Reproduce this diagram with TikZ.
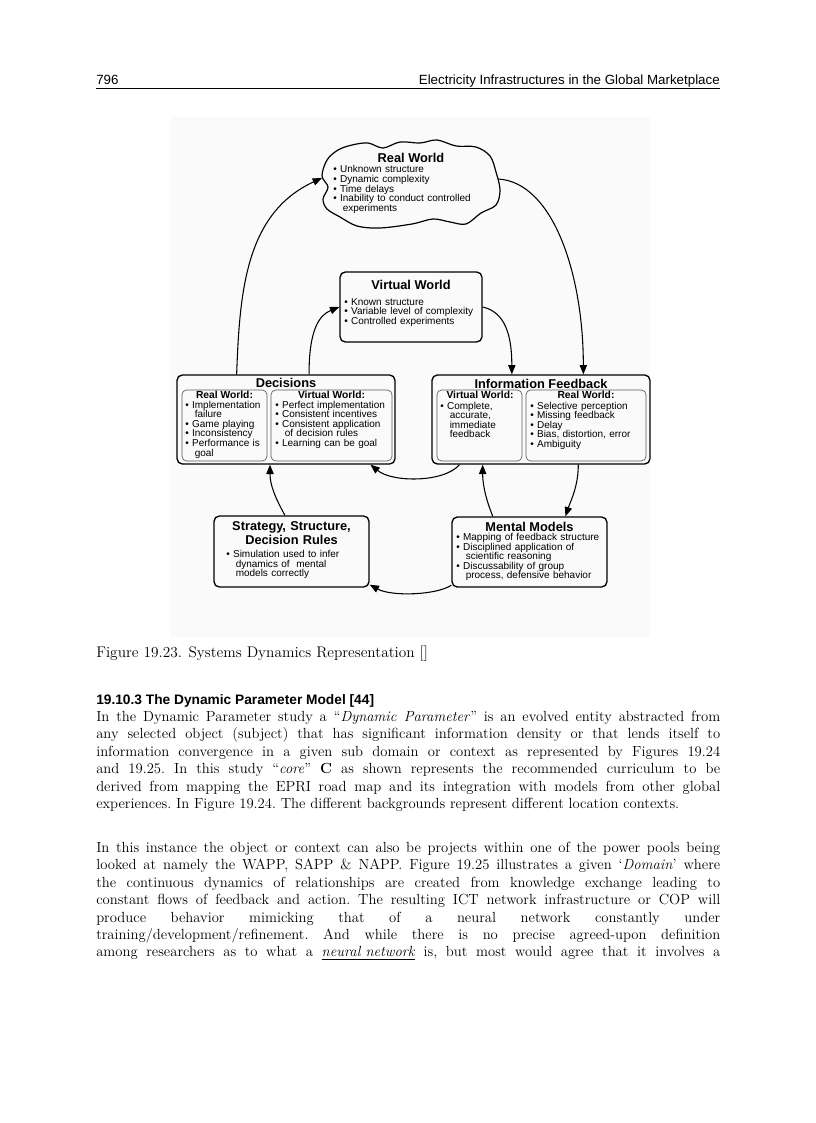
\documentclass[tikz,border=0pt]{standalone}
\usepackage{fontspec}
\usetikzlibrary{arrows.meta,calc,fit}
\newfontfamily\dgm{Liberation Sans}
\newcommand{\bitem}{\textbullet\ }
\newcommand{\bcont}{\hspace*{0.95em}}
\newcommand{\fullpar}{\frenchspacing\tolerance=10000\parfillskip=0pt\relax}
\tikzset{
  outbox/.style={draw, rounded corners=4pt, line width=1pt, inner sep=0pt},
  inbox/.style={draw=black!65, rounded corners=3.5pt, line width=0.5pt, inner sep=0pt},
  cloudline/.style={line width=0.9pt},
  flow/.style={-{Triangle[length=7pt,width=5.5pt]}, line width=0.8pt},
  ttl/.style={font=\dgm\bfseries\fontsize{9.6}{10.5}\selectfont, inner sep=0pt},
  sub/.style={font=\dgm\bfseries\fontsize{7.7}{9}\selectfont, inner sep=0pt},
  txt/.style={font=\dgm\fontsize{7.5}{7.2}\selectfont, anchor=base west, inner sep=0pt,
    text width=130pt, align=left},
  hdr/.style={font=\dgm\fontsize{10}{12}\selectfont, inner sep=0pt},
  para/.style={anchor=base west, inner sep=0pt, text width=468pt, align=justify,
    font=\fontsize{11}{13.05}\selectfont}
}
\begin{document}
\begin{tikzpicture}[x=0.75pt,y=-0.75pt]
  \useasboundingbox (0,0) rectangle (816,1123);
  \fill[white] (0,0) rectangle (816,1123);

  % running head
  \node[hdr, anchor=base west] (pgno) at (96,84.5) {796};
  \node[hdr, anchor=base east] (runhead) at (720,84.5) {Electricity Infrastructures in the Global Marketplace};
  \draw[line width=0.8pt] (96,88.5) -- (720,88.5);

  % scanned figure
  \fill[black!2] (170,117) rectangle (650,637);

  % real world cloud
  \draw[cloudline] plot[smooth cycle, tension=0.55] coordinates {
    (327,160) (338,150) (352,145) (368,143) (383,148) (400,142) (420,143)
    (437,140) (456,146) (476,147) (490,156) (496,172) (500,190) (496,205)
    (481,213) (466,224) (450,222) (433,219) (412,224) (380,228) (357,226)
    (340,217) (327,209) (323,199) (328,187) (322,176)};
  \coordinate (rwL) at (322,178);
  \coordinate (rwR) at (498,179);
  \node[ttl] (rwtitle) at (411,158) {Real World};
  \node[txt] (rwlist) at (333,173) {\bitem Unknown structure\\ \bitem Dynamic complexity\\
    \bitem Time delays\\ \bitem Inability to conduct controlled\\ \bcont experiments};

  % virtual world
  \node[outbox, fit={(340,272) (482,342)}] (vw) {};
  \node[ttl] (vwtitle) at (411,285) {Virtual World};
  \node[txt] (vwlist) at (344,305.3) {\bitem Known structure\\ \bitem Variable level of complexity\\
    \bitem Controlled experiments};

  % decisions
  \node[outbox, fit={(177,375) (395,464)}] (dec) {};
  \node[inbox, fit={(182,390) (267,461)}] (decR) {};
  \node[inbox, fit={(271,390) (392,461)}] (decV) {};
  \node[ttl] (dectitle) at (286,383.3) {Decisions};
  \node[sub] (decRt) at (224.5,394.8) {Real World:};
  \node[sub] (decVt) at (331.5,394.8) {Virtual World:};
  \node[txt] (decRl) at (185,408) {\bitem Implementation\\ \bcont failure\\ \bitem Game playing\\
    \bitem Inconsistency\\ \bitem Performance is\\ \bcont goal};
  \node[txt] (decVl) at (275,408) {\bitem Perfect implementation\\ \bitem Consistent incentives\\
    \bitem Consistent application\\ \bcont of decision rules\\ \bitem Learning can be goal};

  % information feedback
  \node[outbox, fit={(432,375) (650,464)}] (inf) {};
  \node[inbox, fit={(437,390) (522,461)}] (infV) {};
  \node[inbox, fit={(526,390) (646,461)}] (infR) {};
  \node[ttl] (inftitle) at (541,384) {Information Feedback};
  \node[sub] (infVt) at (480,394.8) {Virtual World:};
  \node[sub] (infRt) at (586,394.8) {Real World:};
  \node[txt] (infVl) at (440,409) {\bitem Complete,\\ \bcont accurate,\\ \bcont immediate\\ \bcont feedback};
  \node[txt] (infRl) at (530,409) {\bitem Selective perception\\ \bitem Missing feedback\\
    \bitem Delay\\ \bitem Bias, distortion, error\\ \bitem Ambiguity};

  % strategy
  \node[outbox, fit={(214,516) (369,587)}] (st) {};
  \node[ttl, text width=150pt, align=center, anchor=base] (sttitle) at (291.5,530) {Strategy, Structure,\\ Decision Rules};
  \node[txt] (stlist) at (226,557.5) {\bitem Simulation used to infer\\ \bcont dynamics of \ mental\\
    \bcont models correctly};

  % mental models
  \node[outbox, fit={(452,517) (607,587)}] (mm) {};
  \node[ttl] (mmtitle) at (529.5,526.7) {Mental Models};
  \node[txt] (mmlist) at (456,540.5) {\bitem Mapping of feedback structure\\ \bitem Disciplined application of\\
    \bcont scientific reasoning\\ \bitem Discussability of group\\ \bcont process, defensive behavior};

  % loops
  \draw[flow] ($(dec.north west)!0.275!(dec.north east)$) .. controls +(3,-84) and +(-76,35) .. (rwL);
  \draw[flow] (rwR) .. controls +(55,3) and +(0,-100) .. ($(inf.north west)!0.693!(inf.north east)$);
  \draw[flow] ($(dec.north west)!0.605!(dec.north east)$) .. controls +(0,-45) and +(-20,8) .. (vw.west);
  \draw[flow] (vw.east) .. controls +(22,5) and +(0,-40) .. ($(inf.north west)!0.367!(inf.north east)$);
  \draw[flow] ($(inf.south west)!0.128!(inf.south east)$) .. controls +(-15,18) and +(22,18) .. ($(dec.south west)!0.885!(dec.south east)$);
  \draw[flow] ($(st.north west)!0.458!(st.north east)$) .. controls +(-10,-18) and +(0,20) .. ($(dec.south west)!0.427!(dec.south east)$);
  \draw[flow] ($(mm.north west)!0.265!(mm.north east)$) .. controls +(-8,-20) and +(0,18) .. ($(inf.south west)!0.234!(inf.south east)$);
  \draw[flow] ($(inf.south west)!0.67!(inf.south east)$) .. controls +(0,22) and +(5,-15) .. ($(mm.north west)!0.73!(mm.north east)$);
  \draw[flow] (mm.-157) .. controls +(-15,10) and +(22,12) .. (st.-23);

  % caption and text
  \node[anchor=base west, inner sep=0pt, font=\fontsize{11.5}{13}\selectfont] (cap) at (96,657.5)
    {Figure 19.23. Systems Dynamics Representation []};
  \node[anchor=base west, inner sep=0pt, font=\dgm\bfseries\fontsize{10.3}{12}\selectfont] (sec) at (96,704.5)
    {19.10.3 The Dynamic Parameter Model [44]};
  \node[para] (par1) at (96,721.5) {\fullpar In the Dynamic Parameter study a ``\textit{Dynamic Parameter}'' is an evolved entity abstracted from\linebreak
    any selected object (subject) that has significant information density or that lends itself to\linebreak
    information convergence in a given sub domain or context as represented by Figures 19.24\linebreak
    and 19.25. In this study ``\textit{core}'' \textbf{C} as shown represents the recommended curriculum to be\linebreak
    derived from mapping the EPRI road map and its integration with models from other global\linebreak
    experiences. In Figure 19.24. The different backgrounds represent different location contexts.};
  \node[para] (par2) at (96,852.5) {\fullpar In this instance the object or context can also be projects within one of the power pools being\linebreak
    looked at namely the WAPP, SAPP \& NAPP. Figure 19.25 illustrates a given `\textit{Domain}' where\linebreak
    the continuous dynamics of relationships are created from knowledge exchange leading to\linebreak
    constant flows of feedback and action. The resulting ICT network infrastructure or COP will\linebreak
    produce behavior mimicking that of a neural network constantly under\linebreak
    training/development/refinement. And while there is no precise agreed-upon definition\linebreak
    \makebox[\linewidth][s]{among researchers as to what a \underline{\textit{neural network}} is, but most would agree that it involves a}};
\end{tikzpicture}
\end{document}
